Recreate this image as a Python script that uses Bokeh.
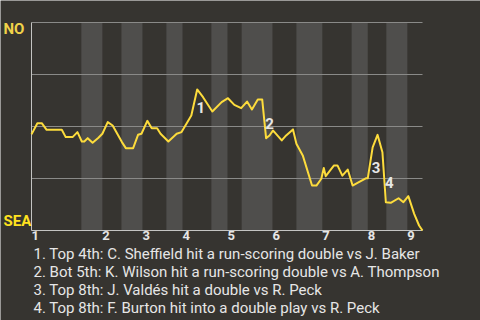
from bokeh.plotting import figure
from bokeh.models import Range1d
from bokeh.core.properties import value
from bokeh.embed import file_html
from bokeh.resources import INLINE

# Plate-appearance index through the game and NO win probability after each one
pa_index = [0.0, 1.2, 2.1, 3.1, 6.2, 7.0, 8.4, 9.4, 10.3, 10.8, 11.5, 12.5, 13.7, 14.5,
            15.6, 16.6, 18.5, 19.3, 20.8, 21.8, 22.5, 23.7, 24.6, 25.7, 26.4, 28.0,
            29.7, 30.7, 31.7, 32.7, 33.9, 35.1, 37.0, 38.9, 39.8, 40.2, 41.5, 42.9,
            44.1, 45.1, 46.3, 47.2, 48.0, 48.7, 49.4, 51.2, 52.1, 53.5, 54.2, 55.5,
            57.4, 58.3, 59.3, 59.8, 60.2, 61.9, 62.6, 63.6, 64.7, 65.7, 66.7, 68.4,
            68.8, 69.8, 70.8, 71.8, 72.5, 73.5, 75.1, 76.1, 77.1, 78.3, 79.3, 80.0]
win_prob = [0.462, 0.516, 0.516, 0.484, 0.484, 0.449, 0.449, 0.473, 0.428, 0.428,
            0.444, 0.422, 0.446, 0.465, 0.521, 0.505, 0.425, 0.396, 0.396, 0.460,
            0.465, 0.527, 0.492, 0.492, 0.465, 0.428, 0.465, 0.473, 0.513, 0.553,
            0.678, 0.641, 0.572, 0.617, 0.630, 0.636, 0.604, 0.588, 0.620, 0.582,
            0.630, 0.630, 0.444, 0.457, 0.481, 0.433, 0.457, 0.486, 0.417, 0.361,
            0.216, 0.216, 0.249, 0.301, 0.261, 0.313, 0.313, 0.264, 0.293, 0.216,
            0.229, 0.251, 0.251, 0.400, 0.460, 0.376, 0.136, 0.133, 0.155, 0.136,
            0.165, 0.080, 0.024, 0.0]

# Half-inning boundaries (bottom halves are shaded)
bottom_half_start = [10.2, 18.4, 27.6, 36.8, 43.0, 54.2, 65.5, 72.6]
bottom_half_end = [14.5, 22.7, 30.9, 40.1, 49.3, 59.5, 68.8, 76.9]
inning_start = [0.0, 14.5, 22.7, 30.9, 40.1, 49.3, 59.5, 68.8, 76.9]
inning_labels = ["1", "2", "3", "4", "5", "6", "7", "8", "9"]
grid_levels = [0.25, 0.5, 0.75, 1.0]

# Key plays: index into the series above and their captions
key_play_index = [30, 42, 63, 66]
key_play_tags = ["1", "2", "3", "4"]
key_play_notes = [
    "1. Top 4th: C. Sheffield hit a run-scoring double vs J. Baker",
    "2. Bot 5th: K. Wilson hit a run-scoring double vs A. Thompson",
    "3. Top 8th: J. Valdés hit a double vs R. Peck",
    "4. Top 8th: F. Burton hit into a double play vs R. Peck",
]

BG = "#363430"
BAND = "#4f4e4c"
GRID = "#8a8a88"
AXIS = "#c4c4c2"
LINE = "#fddc3c"
TEXT = "#e6e6e6"
FONT = value("Roboto")

# Canvas and the chart box inside it (pixels); the frame fills the whole canvas
W, H = 480, 320
BOX_L, BOX_R, BOX_T, BOX_B = 31, 422, 22, 230
X_SPAN = pa_index[-1]
px_x = (BOX_R - BOX_L) / X_SPAN
px_y = float(BOX_B - BOX_T)

p = figure(width=W, height=H, output_backend="svg", toolbar_location=None,
           x_axis_location=None, y_axis_location=None,
           x_range=Range1d(-BOX_L / px_x, X_SPAN + (W - BOX_R) / px_x),
           y_range=Range1d(-(H - BOX_B) / px_y, 1 + BOX_T / px_y),
           min_border=0)
p.background_fill_color = BG
p.border_fill_color = BG
p.outline_line_color = None
p.grid.visible = False

# Shaded bottom halves
p.quad(left=bottom_half_start, right=bottom_half_end, bottom=0, top=1,
       fill_color=BAND, line_color=None)

# Horizontal guides
p.segment(x0=[0] * len(grid_levels), x1=[X_SPAN] * len(grid_levels),
          y0=grid_levels, y1=grid_levels, line_color=GRID, line_width=1)

# Left and bottom edges of the chart box
p.segment(x0=[0, 0], y0=[0, 0], x1=[0, X_SPAN], y1=[1, 0],
          line_color=AXIS, line_width=1)

p.line(pa_index, win_prob, line_color=LINE, line_width=2, line_join="round")

# Numbered markers beside each key swing
tag_x = [pa_index[i] for i in key_play_index]
tag_y = [(win_prob[i - 1] + win_prob[i]) / 2 for i in key_play_index]
p.text(x=tag_x, y=tag_y, text=key_play_tags, x_offset=3.5, y_offset=5,
       text_align="center", text_baseline="middle",
       text_font=FONT, text_font_style="bold", text_font_size="15px",
       text_color=TEXT)

# Inning numbers under the bottom edge
p.text(x=inning_start, y=[0] * len(inning_start), text=inning_labels,
       y_offset=0, text_align="left", text_baseline="top",
       text_font=FONT, text_font_style="bold", text_font_size="13px",
       text_color=TEXT)

# Team names at either end of the probability scale
p.text(x=[0], y=[1], text=["NO"], x_offset=-28, y_offset=-3, text_align="left",
       text_baseline="top", text_font=FONT, text_font_style="bold",
       text_font_size="15px", text_color="#f0d24a")
p.text(x=[0], y=[0], text=["SEA"], x_offset=-28, y_offset=-1, text_align="left",
       text_baseline="bottom", text_font=FONT, text_font_style="bold",
       text_font_size="15px", text_color="#ffe21f")

# Captions for the key plays
p.text(x=[0] * len(key_play_notes), y=[0] * len(key_play_notes),
       text=key_play_notes, x_offset=2,
       y_offset=[14 + 18 * k for k in range(len(key_play_notes))],
       text_align="left", text_baseline="top",
       text_font=FONT, text_font_size="15px", text_color=TEXT)

open("out.html", "w").write(file_html(p, INLINE))
